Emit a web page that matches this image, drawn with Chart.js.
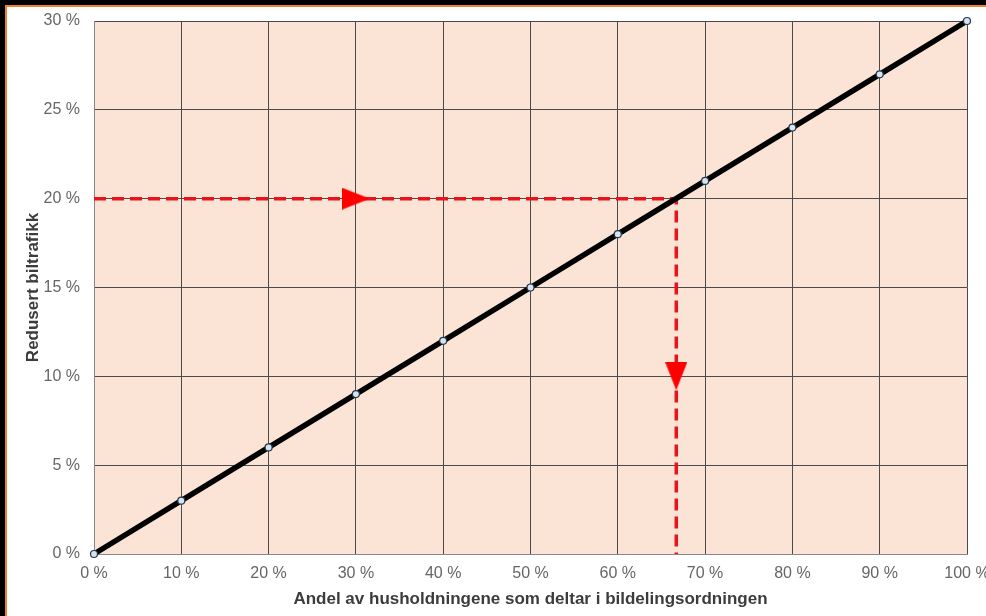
<!DOCTYPE html>
<html lang="no">
<head>
  <meta charset="UTF-8" />
  <title>Redusert biltrafikk</title>
  <script src="https://cdn.jsdelivr.net/npm/chart.js"></script>
  <style>
    body { margin: 0; background: #000; width: 986px; height: 616px; overflow: hidden; position: relative; }
    .frame { position: absolute; left: 5px; top: 5px; right: 0; bottom: 0; background: #fff; border-left: 2px solid #f0802a; border-top: 2px solid #f0802a; }
    canvas { position: absolute; left: 0; top: 0; }
  </style>
</head>
<body>
  <div class="frame"></div>
  <canvas id="chart" width="986" height="616"></canvas>
  <script>
    // andel husholdninger (%) og redusert biltrafikk (%)
    const andel = [0, 10, 20, 30, 40, 50, 60, 70, 80, 90, 100];
    const redusert = [0, 3, 6, 9, 12, 15, 18, 21, 24, 27, 30];

    // avlesning: 20 % reduksjon -> ca. 66,7 % andel
    const guideX = [0, 66.7, 66.7];
    const guideY = [20, 20, 0];
    const arrowX = [30, 66.7];
    const arrowY = [20, 10];
    const arrowRot = [90, 180];

    // pil-spiss som eget punktbilde
    const arrowImg = document.createElement('canvas');
    arrowImg.width = 22; arrowImg.height = 28;
    const a = arrowImg.getContext('2d');
    a.fillStyle = '#ff0000';
    a.beginPath(); a.moveTo(11, 0); a.lineTo(22, 28); a.lineTo(0, 28); a.closePath(); a.fill();

    const plotBg = {
      id: 'plotBg',
      beforeDraw(chart) {
        const { ctx, chartArea: c } = chart;
        ctx.save();
        ctx.fillStyle = '#fbe4d6';
        ctx.fillRect(c.left, c.top, c.right - c.left, c.bottom - c.top);
        ctx.restore();
      }
    };

    const tickFont = { family: 'Liberation Sans, Arial, sans-serif', size: 16 };
    const titleFont = { family: 'Liberation Sans, Arial, sans-serif', size: 17, weight: 'bold' };

    new Chart(document.getElementById('chart'), {
      type: 'line',
      data: {
        datasets: [
          {
            label: 'guide',
            data: guideX.map((x, i) => ({ x, y: guideY[i] })),
            borderColor: '#e8141b',
            borderWidth: 3.5,
            borderDash: [12, 6],
            pointRadius: 0,
            order: 3
          },
          {
            label: 'Redusert biltrafikk',
            data: andel.map((x, i) => ({ x, y: redusert[i] })),
            borderColor: '#000',
            borderWidth: 5.5,
            pointRadius: 3.5,
            pointBackgroundColor: '#d4e4f2',
            pointBorderColor: '#26364c',
            pointBorderWidth: 1.2,
            clip: false,
            order: 1
          },
          {
            label: 'pil',
            data: arrowX.map((x, i) => ({ x, y: arrowY[i] })),
            showLine: false,
            pointStyle: arrowImg,
            rotation: arrowRot,
            order: 2
          }
        ]
      },
      options: {
        responsive: false,
        animation: false,
        layout: { padding: { left: 23, top: 21, right: 19, bottom: 6 } },
        plugins: { legend: { display: false }, tooltip: { enabled: false } },
        scales: {
          x: {
            type: 'linear', min: 0, max: 100,
            afterFit: s => { s.height = 56; s.paddingRight = 0; s.paddingLeft = 0; },
            ticks: { stepSize: 10, color: '#666', font: tickFont, padding: 10, maxRotation: 0, callback: v => v + ' %' },
            grid: { color: '#4a4a4a', lineWidth: 1, drawTicks: false },
            border: { color: '#888' },
            title: { display: true, text: 'Andel av husholdningene som deltar i bildelingsordningen', color: '#3c3c3c', font: titleFont, padding: { top: 4, bottom: 0 } }
          },
          y: {
            min: 0, max: 30,
            afterFit: s => { s.width = 71; s.paddingTop = 0; },
            ticks: { stepSize: 5, color: '#666', font: tickFont, padding: 14, callback: v => v + ' %' },
            grid: { color: '#4a4a4a', lineWidth: 1, drawTicks: false },
            border: { color: '#888' },
            title: { display: true, text: 'Redusert biltrafikk', color: '#3c3c3c', font: titleFont, padding: { top: 0, bottom: 0 } }
          }
        }
      },
      plugins: [plotBg]
    });
  </script>
</body>
</html>
